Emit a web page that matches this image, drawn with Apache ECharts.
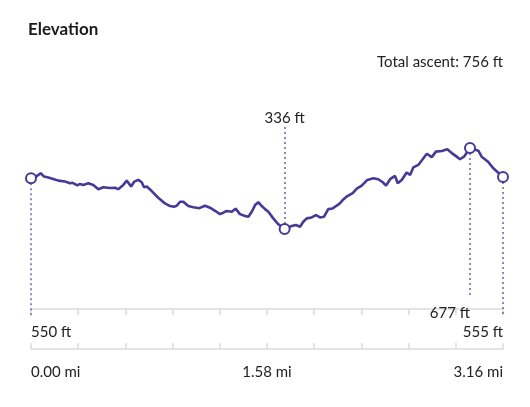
<!DOCTYPE html>
<html>
<head>
<meta charset="utf-8">
<script src="https://cdn.jsdelivr.net/npm/echarts@6/dist/echarts.min.js"></script>
<style>
html,body{margin:0;padding:0;background:#fff;}
#chart{width:530px;height:407px;}
</style>
</head>
<body>
<div id="chart"></div>
<script>
// ---- data ----
const distMi = [0, 0.033, 0.065, 0.087, 0.116, 0.149, 0.183, 0.228, 0.261, 0.279, 0.310, 0.328, 0.350, 0.384, 0.417, 0.451, 0.484, 0.529, 0.562, 0.584,
  0.618, 0.641, 0.670, 0.692, 0.718, 0.741, 0.757, 0.775, 0.808, 0.852, 0.897, 0.931, 0.957, 0.975, 0.998, 1.020, 1.053, 1.087, 1.109, 1.127,
  1.165, 1.198, 1.232, 1.265, 1.287, 1.310, 1.344, 1.370, 1.399, 1.433, 1.455, 1.478, 1.500, 1.522, 1.545, 1.567, 1.589, 1.622, 1.656, 1.698,
  1.745, 1.774, 1.801, 1.823, 1.846, 1.879, 1.908, 1.935, 1.962, 1.990, 2.020, 2.042, 2.064, 2.087, 2.118, 2.154, 2.181, 2.214, 2.252, 2.292,
  2.325, 2.355, 2.377, 2.404, 2.437, 2.455, 2.482, 2.515, 2.538, 2.560, 2.593, 2.627, 2.650, 2.683, 2.711, 2.750, 2.787, 2.817, 2.850, 2.872,
  2.899, 2.939, 2.995, 3.017, 3.062, 3.095, 3.160];
const elevFt = [550, 557, 571, 557, 553, 547, 540, 536, 529, 531, 520, 526, 522, 529, 522, 504, 512, 509, 510, 504,
  522, 540, 515, 536, 543, 533, 512, 515, 496, 468, 444, 433, 430, 434, 451, 451, 433, 428, 426, 424,
  434, 426, 413, 399, 405, 412, 409, 422, 399, 391, 388, 409, 437, 449, 433, 420, 409, 381, 356, 336,
  349, 353, 346, 367, 381, 385, 395, 385, 388, 420, 423, 433, 442, 458, 475, 487, 506, 519, 543, 550,
  546, 533, 519, 546, 560, 529, 543, 574, 564, 596, 606, 634, 653, 639, 662, 665, 672, 656, 641, 630,
  641, 677, 666, 641, 618, 592, 555];
const tickLabels = ['0.00 mi', '', '', '', '', '1.58 mi', '', '', '', '', '3.16 mi'];
const titleText = 'Elevation';
const ascentText = 'Total ascent: 756 ft';
const unit = ' ft';

// ---- layout / style ----
const LINE_COLOR = '#463a96';
const DASH_COLOR = '#6b60b0';
const FONT = 'Lato';
const FS = 15;
const Y_MIN = -30, Y_MAX = 770;
const X_MIN = 0, X_MAX = 3.16, X_INT = 0.316;

const n = elevFt.length;
let iMin = 0, iMax = 0;
for (let i = 0; i < n; i++) {
  if (elevFt[i] < elevFt[iMin]) iMin = i;
  if (elevFt[i] > elevFt[iMax]) iMax = i;
}
const special = new Set([0, iMin, iMax, n - 1]);
const seriesData = distMi.map((d, i) => special.has(i)
  ? { value: [d, elevFt[i]], symbol: 'emptyCircle', symbolSize: 10 }
  : { value: [d, elevFt[i]], symbol: 'none' });

const lbl = (i, align, extra) => Object.assign({
  show: true, position: 'end', formatter: elevFt[i] + unit, align: align,
  color: '#222', fontSize: FS, fontFamily: FONT, distance: 9
}, extra || {});

const yScale = (Y_MAX - Y_MIN) / 190;
const markData = [
  [{ coord: [distMi[0], elevFt[0]] }, { coord: [distMi[0], Y_MIN], label: lbl(0, 'left') }],
  [{ coord: [distMi[iMin], elevFt[iMin]] }, { coord: [distMi[iMin], Y_MAX], label: lbl(iMin, 'center', { distance: 0 }) }],
  [{ coord: [distMi[iMax], elevFt[iMax]] }, { coord: [distMi[iMax], Y_MIN + 21 * yScale], label: lbl(iMax, 'right', { distance: 11 }) }],
  [{ coord: [distMi[n - 1], elevFt[n - 1]] }, { coord: [distMi[n - 1], Y_MIN], label: lbl(n - 1, 'right') }]
];

const baseX = {
  type: 'value', min: X_MIN, max: X_MAX, interval: X_INT, position: 'bottom', offset: 33,
  splitLine: { show: false },
  axisLine: { show: true, lineStyle: { color: '#dcdcdc', width: 1.5 } }
};

const chart = echarts.init(document.getElementById('chart'), null, { renderer: 'canvas' });
chart.setOption({
  animation: false,
  backgroundColor: '#fff',
  textStyle: { fontFamily: FONT },
  title: [
    { text: titleText, left: 23, top: 16, textStyle: { fontSize: 17, fontWeight: 'bold', color: '#1b1b1b', fontFamily: FONT } },
    { text: ascentText, right: 22, top: 50, textStyle: { fontSize: FS, fontWeight: 'normal', color: '#222', fontFamily: FONT } }
  ],
  grid: { left: 31, right: 27, top: 126, height: 190 },
  xAxis: [
    Object.assign({}, baseX, {
      axisTick: { show: true, inside: false, length: 6, lineStyle: { color: '#dcdcdc', width: 1.5 } },
      axisLabel: {
        show: true, margin: 16, color: '#222', fontSize: FS, fontFamily: FONT,
        alignMinLabel: 'left', alignMaxLabel: 'right',
        formatter: (v) => tickLabels[Math.round((v - X_MIN) / X_INT)] || ''
      }
    }),
    Object.assign({}, baseX, {
      axisTick: { show: true, inside: true, length: 6, lineStyle: { color: '#dcdcdc', width: 1.5 } },
      axisLabel: { show: false }
    })
  ],
  yAxis: { type: 'value', min: Y_MIN, max: Y_MAX, show: false, splitLine: { show: false } },
  series: [{
    type: 'line',
    z: 3,
    data: seriesData,
    smooth: false,
    lineStyle: { color: LINE_COLOR, width: 2.6 },
    itemStyle: { color: LINE_COLOR, borderWidth: 2 },
    markLine: {
      z: 1,
      silent: true,
      symbol: ['none', 'none'],
      lineStyle: { color: DASH_COLOR, type: [2, 3], width: 1.5 },
      data: markData
    }
  }]
});
</script>
</body>
</html>
